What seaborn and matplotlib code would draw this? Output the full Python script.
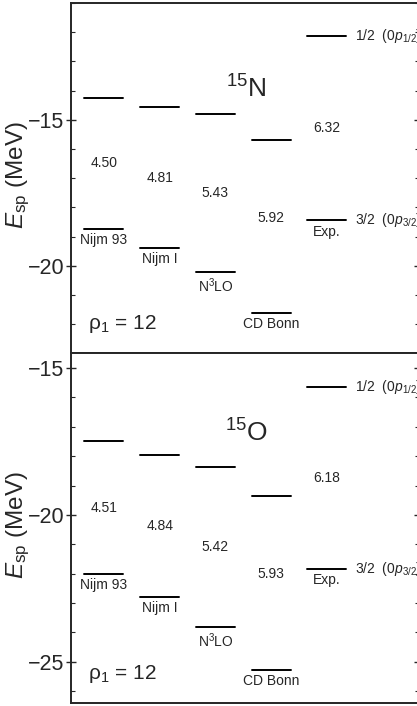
import numpy as np
import pandas as pd
import seaborn as sns
import matplotlib.pyplot as plt
from matplotlib.ticker import MultipleLocator

# Dados: energias de particula simples (MeV)
forcas = ['Nijm 93', 'Nijm I', 'N$^3$LO', 'CD Bonn', 'Exp.']
n15_p12 = [-14.24, -14.58, -14.80, -15.70, -12.13]
n15_p32 = [-18.74, -19.39, -20.23, -21.62, -18.45]
n15_gap = ['4.50', '4.81', '5.43', '5.92', '6.32']
o15_p12 = [-17.50, -17.95, -18.38, -19.35, -15.66]
o15_p32 = [-22.01, -22.79, -23.80, -25.28, -21.84]
o15_gap = ['4.51', '4.84', '5.42', '5.93', '6.18']

sns.set_style('ticks')
plt.rcParams['font.family'] = ['Liberation Sans', 'DejaVu Sans']
plt.rcParams['mathtext.fontset'] = 'custom'
plt.rcParams['mathtext.rm'] = 'Liberation Sans'
plt.rcParams['mathtext.it'] = 'Liberation Sans:italic'

fig = plt.figure(figsize=(4.17, 7.06), dpi=100)
ax1 = fig.add_axes([0.1695, 0.4996, 0.835, 0.4962])
ax2 = fig.add_axes([0.1695, 0.0043, 0.835, 0.4953])

meia = 0.35


def painel(ax, p12, p32, gap, nucleo, ylim):
    xs = np.arange(1, len(forcas) + 1)
    linhas = []
    for i, x in enumerate(xs):
        for j, e in enumerate([p12[i], p32[i]]):
            linhas.append({'x': x - meia, 'E': e, 'seg': 2 * i + j})
            linhas.append({'x': x + meia, 'E': e, 'seg': 2 * i + j})
    df = pd.DataFrame(linhas)
    sns.lineplot(data=df, x='x', y='E', units='seg', estimator=None,
                 color='black', lw=1.4, ax=ax)

    for i, x in enumerate(xs):
        meio = (p12[i] + p32[i]) / 2
        if forcas[i] == 'CD Bonn':
            meio += 0.3
        ax.text(x, meio, gap[i], ha='center', va='center', fontsize=10)
        ax.text(x, p32[i] - 0.15, forcas[i], ha='center', va='top', fontsize=10)

    # rotulos dos niveis experimentais
    ax.text(5.5, p12[-1], '1/2  (0$\\mathit{p}_{1/2}$)', ha='left', va='center',
            fontsize=10, clip_on=False)
    ax.text(5.5, p32[-1], '3/2  (0$\\mathit{p}_{3/2}$)', ha='left', va='center',
            fontsize=10, clip_on=False)

    ax.text(3.55, p12[0] + 0.3, nucleo, ha='center', va='center', fontsize=19)
    ax.text(0.72, ylim[0] + 1.0, '\u03c1$_1$ = 12', ha='left', va='center', fontsize=15)

    ax.set_xlim(0.403, 6.65)
    ax.set_ylim(*ylim)
    ax.set_xlabel('')
    ax.set_xticks([])
    ax.yaxis.set_major_locator(MultipleLocator(5))
    ax.yaxis.set_minor_locator(MultipleLocator(1))
    ax.tick_params(axis='y', which='major', direction='inout', length=7, width=1,
                   labelsize=15.5, right=True, pad=1)
    ax.tick_params(axis='y', which='minor', direction='in', length=3, width=0.8,
                   right=True)
    ax.set_yticklabels([f'\u2212{abs(int(t))}' for t in ax.get_yticks()])
    ax.set_ylabel('$\\mathit{E}_{\\rm sp}$ (MeV)', fontsize=17.5)
    ax.yaxis.set_label_coords(-0.11, 0.51)
    for s in ax.spines.values():
        s.set_linewidth(1.4)


painel(ax1, n15_p12, n15_p32, n15_gap, '$^{15}$N', (-23, -11))
painel(ax2, o15_p12, o15_p32, o15_gap, '$^{15}$O', (-26.4, -14.5))

plt.savefig('out.png', dpi=100)
